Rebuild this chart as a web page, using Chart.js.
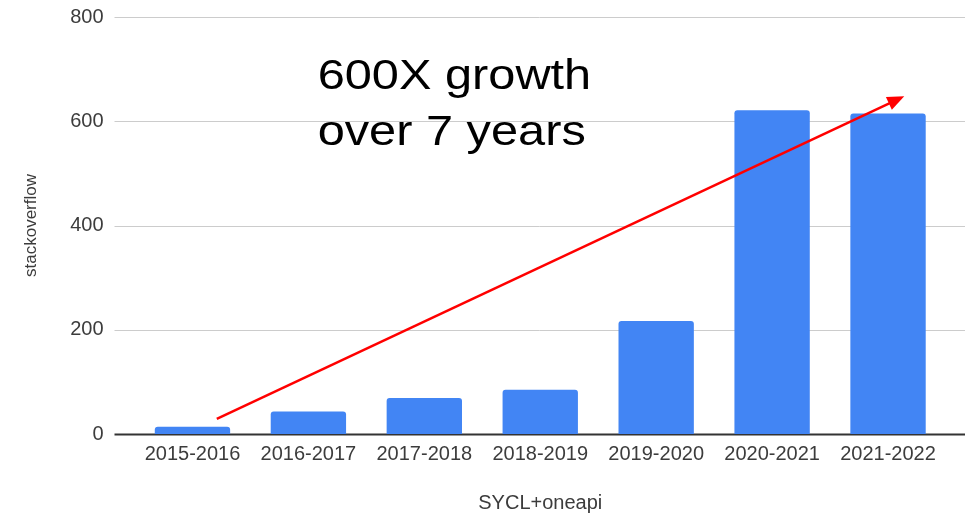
<!DOCTYPE html>
<html>
<head>
<meta charset="utf-8">
<script src="https://cdn.jsdelivr.net/npm/chart.js@4.4.1/dist/chart.umd.min.js"></script>
<style>
  html, body { margin: 0; padding: 0; background: #fff; }
  #wrap { width: 977px; height: 515px; }
</style>
</head>
<body>
<div id="wrap"><canvas id="chart" width="977" height="515"></canvas></div>
<script>
const periods = ["2015-2016", "2016-2017", "2017-2018", "2018-2019", "2019-2020", "2020-2021", "2021-2022"];
const questions = [14, 43, 69, 85, 217, 621, 615];
const yTicks = [0, 200, 400, 600, 800];
const growthNote = ["600X growth", "over 7 years"];
// arrow ends and note anchor in axis units (category index, value)
const arrowFrom = [0.21, 29];
const arrowTo = [6.14, 648];
const noteAt = [1.08, 661, 554];

const FONT = "'Liberation Sans', Arial, sans-serif";

// horizontal rules across the plot, a little wider than the bars' area
const gridRules = {
  id: "gridRules",
  beforeDatasetsDraw(chart) {
    const { ctx, chartArea, scales } = chart;
    const y = scales.y;
    ctx.save();
    y.ticks.forEach(t => {
      const py = Math.round(y.getPixelForValue(t.value)) + 0.5;
      ctx.beginPath();
      ctx.strokeStyle = t.value === 0 ? "#333" : "#cccccc";
      ctx.lineWidth = t.value === 0 ? 2 : 1;
      ctx.moveTo(chartArea.left - 20, py);
      ctx.lineTo(chartArea.right + 19, py);
      ctx.stroke();
    });
    ctx.restore();
  }
};

// red trend arrow + note text
const growthArrow = {
  id: "growthArrow",
  afterDatasetsDraw(chart) {
    const { ctx, scales } = chart;
    const x = scales.x, y = scales.y;
    const x0 = x.getPixelForValue(arrowFrom[0]), y0 = y.getPixelForValue(arrowFrom[1]);
    const x1 = x.getPixelForValue(arrowTo[0]), y1 = y.getPixelForValue(arrowTo[1]);
    const ang = Math.atan2(y1 - y0, x1 - x0);
    const headLen = 17, headHalf = 7;
    ctx.save();
    ctx.strokeStyle = "#ff0000";
    ctx.fillStyle = "#ff0000";
    ctx.lineWidth = 2.5;
    ctx.beginPath();
    ctx.moveTo(x0, y0);
    ctx.lineTo(x1 - Math.cos(ang) * headLen * 0.8, y1 - Math.sin(ang) * headLen * 0.8);
    ctx.stroke();
    ctx.translate(x1, y1);
    ctx.rotate(ang);
    ctx.beginPath();
    ctx.moveTo(0, 0);
    ctx.lineTo(-headLen, -headHalf);
    ctx.lineTo(-headLen, headHalf);
    ctx.closePath();
    ctx.fill();
    ctx.restore();

    const tx = x.getPixelForValue(noteAt[0]);
    ctx.save();
    ctx.fillStyle = "#000";
    ctx.font = "42px " + FONT;
    ctx.textBaseline = "alphabetic";
    growthNote.forEach((line, i) => {
      const by = y.getPixelForValue(noteAt[1 + i]);
      ctx.save();
      ctx.translate(tx, by);
      ctx.scale(1.16, 1);
      ctx.fillText(line, 0, 0);
      ctx.restore();
    });
    ctx.restore();
  }
};

new Chart(document.getElementById("chart"), {
  type: "bar",
  data: {
    labels: periods,
    datasets: [{
      label: "stackoverflow",
      data: questions,
      backgroundColor: "#4285f4",
      borderRadius: 3,
      borderSkipped: "start",
      categoryPercentage: 1,
      barPercentage: 0.65
    }]
  },
  options: {
    responsive: false,
    animation: false,
    layout: { padding: { top: 17, right: 31, bottom: 0, left: 0 } },
    plugins: {
      legend: { display: false },
      tooltip: { enabled: false }
    },
    scales: {
      x: {
        grid: { display: false, drawTicks: false },
        border: { display: false },
        ticks: { color: "#3c3c3c", font: { family: FONT, size: 20 }, padding: 8, maxRotation: 0 },
        title: {
          display: true,
          text: "SYCL+oneapi",
          color: "#3c3c3c",
          font: { family: FONT, size: 20 },
          padding: { top: 28, bottom: 0 }
        },
        afterFit(scale) {
          scale.height = 81;
          scale.paddingLeft = 0;
          scale.paddingRight = 0;
        }
      },
      y: {
        min: yTicks[0],
        max: yTicks[yTicks.length - 1],
        afterBuildTicks(scale) {
          scale.ticks = yTicks.map(v => ({ value: v }));
        },
        grid: { display: false, drawTicks: false },
        border: { display: false },
        ticks: { color: "#3c3c3c", font: { family: FONT, size: 20 }, padding: 31 },
        title: {
          display: true,
          text: "stackoverflow",
          color: "#3c3c3c",
          font: { family: FONT, size: 17 },
          padding: { top: 21, bottom: 28 }
        },
        afterFit(scale) {
          scale.width = 134.5;
          scale.paddingTop = 0;
          scale.paddingBottom = 0;
        }
      }
    }
  },
  plugins: [gridRules, growthArrow]
});
</script>
</body>
</html>
